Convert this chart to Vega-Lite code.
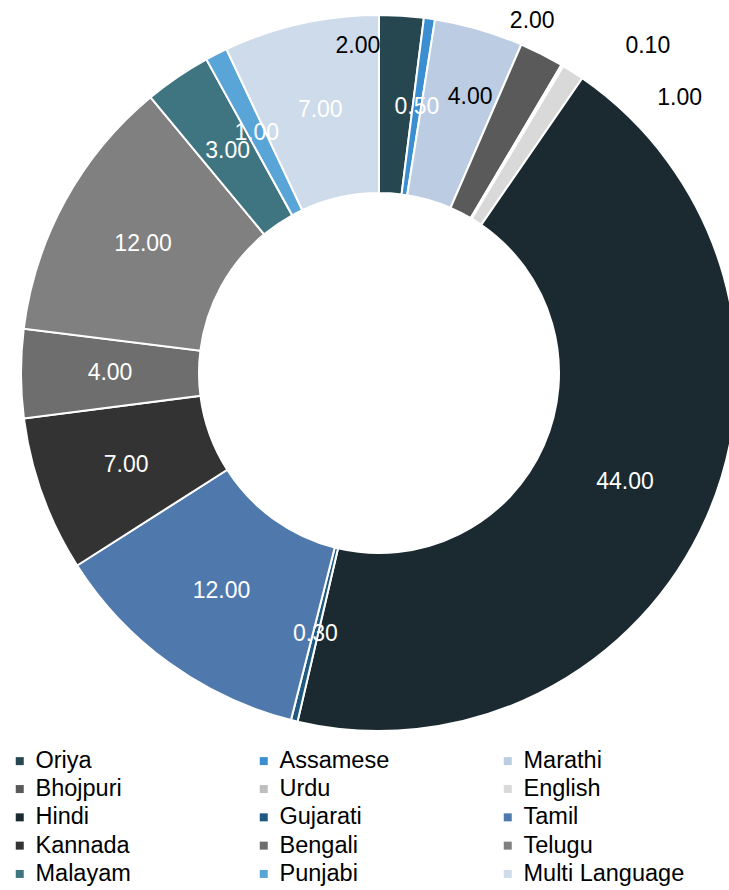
{
  "$schema": "https://vega.github.io/schema/vega-lite/v6.json",
  "width": 758,
  "height": 746,
  "autosize": "none",
  "padding": {"left": 0, "top": 0, "right": 0, "bottom": 144},
  "background": "white",
  "config": {"view": {"stroke": null}, "font": "Liberation Sans"},
  "data": {
    "values": [
      {"idx": 1, "lang": "Oriya", "value": 2},
      {"idx": 2, "lang": "Assamese", "value": 0.5},
      {"idx": 3, "lang": "Marathi", "value": 4},
      {"idx": 4, "lang": "Bhojpuri", "value": 2},
      {"idx": 5, "lang": "Urdu", "value": 0.1},
      {"idx": 6, "lang": "English", "value": 1},
      {"idx": 7, "lang": "Hindi", "value": 44},
      {"idx": 8, "lang": "Gujarati", "value": 0.3},
      {"idx": 9, "lang": "Tamil", "value": 12},
      {"idx": 10, "lang": "Kannada", "value": 7},
      {"idx": 11, "lang": "Bengali", "value": 4},
      {"idx": 12, "lang": "Telugu", "value": 12},
      {"idx": 13, "lang": "Malayam", "value": 3},
      {"idx": 14, "lang": "Punjabi", "value": 1},
      {"idx": 15, "lang": "Multi Language", "value": 7}
    ]
  },
  "encoding": {
    "theta": {"field": "value", "type": "quantitative", "stack": true},
    "order": {"field": "idx", "type": "quantitative"}
  },
  "layer": [
    {
      "mark": {"type": "arc", "radius": 358, "innerRadius": 180, "stroke": "white", "strokeWidth": 2},
      "encoding": {
        "color": {
          "field": "lang",
          "type": "nominal",
          "scale": {
            "domain": ["Oriya", "Assamese", "Marathi", "Bhojpuri", "Urdu", "English", "Hindi", "Gujarati", "Tamil", "Kannada", "Bengali", "Telugu", "Malayam", "Punjabi", "Multi Language"],
            "range": ["#274750", "#3b8fd0", "#bccde3", "#5a5a5a", "#bfbfbf", "#d9d9d9", "#1b2a31", "#1f5a82", "#4f79ad", "#333333", "#6e6e6e", "#808080", "#3f7580", "#5aa5d8", "#cddbea"]
          },
          "legend": {
            "title": null,
            "orient": "none",
            "legendX": 8,
            "legendY": 749,
            "direction": "horizontal",
            "columns": 3,
            "gridAlign": "all",
            "columnPadding": 55,
            "rowPadding": 3.3,
            "padding": 0,
            "symbolType": "square",
            "symbolSize": 64,
            "symbolStrokeWidth": 0,
            "labelFont": "Liberation Sans",
            "labelFontSize": 23.5,
            "labelColor": "#000000",
            "labelOffset": 4,
            "labelLimit": 300
          }
        }
      }
    },
    {
      "mark": {"type": "text", "radius": 269, "fill": "white", "fontSize": 23, "font": "Liberation Sans"},
      "encoding": {
        "detail": {"field": "lang", "type": "nominal"},
        "text": {
          "condition": {"test": "indexof(['Oriya','Marathi','Bhojpuri','Urdu','English'], datum.lang) < 0", "field": "value", "type": "quantitative", "format": ".2f"},
          "value": ""
        }
      }
    },
    {
      "mark": {"type": "text", "radius": 269, "fill": "black", "fontSize": 23, "font": "Liberation Sans", "dx": -38, "dy": -59},
      "encoding": {
        "detail": {"field": "lang", "type": "nominal"},
        "text": {"condition": {"test": "datum.lang === 'Oriya'", "field": "value", "type": "quantitative", "format": ".2f"}, "value": ""}
      }
    },
    {
      "mark": {"type": "text", "radius": 269, "fill": "black", "fontSize": 23, "font": "Liberation Sans", "dx": 16, "dy": -18},
      "encoding": {
        "detail": {"field": "lang", "type": "nominal"},
        "text": {"condition": {"test": "datum.lang === 'Marathi'", "field": "value", "type": "quantitative", "format": ".2f"}, "value": ""}
      }
    },
    {
      "mark": {"type": "text", "radius": 269, "fill": "black", "fontSize": 23, "font": "Liberation Sans", "dx": 31, "dy": -112},
      "encoding": {
        "detail": {"field": "lang", "type": "nominal"},
        "text": {"condition": {"test": "datum.lang === 'Bhojpuri'", "field": "value", "type": "quantitative", "format": ".2f"}, "value": ""}
      }
    },
    {
      "mark": {"type": "text", "radius": 269, "fill": "black", "fontSize": 23, "font": "Liberation Sans", "dx": 131, "dy": -96},
      "encoding": {
        "detail": {"field": "lang", "type": "nominal"},
        "text": {"condition": {"test": "datum.lang === 'Urdu'", "field": "value", "type": "quantitative", "format": ".2f"}, "value": ""}
      }
    },
    {
      "mark": {"type": "text", "radius": 269, "fill": "black", "fontSize": 23, "font": "Liberation Sans", "dx": 155, "dy": -49},
      "encoding": {
        "detail": {"field": "lang", "type": "nominal"},
        "text": {"condition": {"test": "datum.lang === 'English'", "field": "value", "type": "quantitative", "format": ".2f"}, "value": ""}
      }
    }
  ]
}
